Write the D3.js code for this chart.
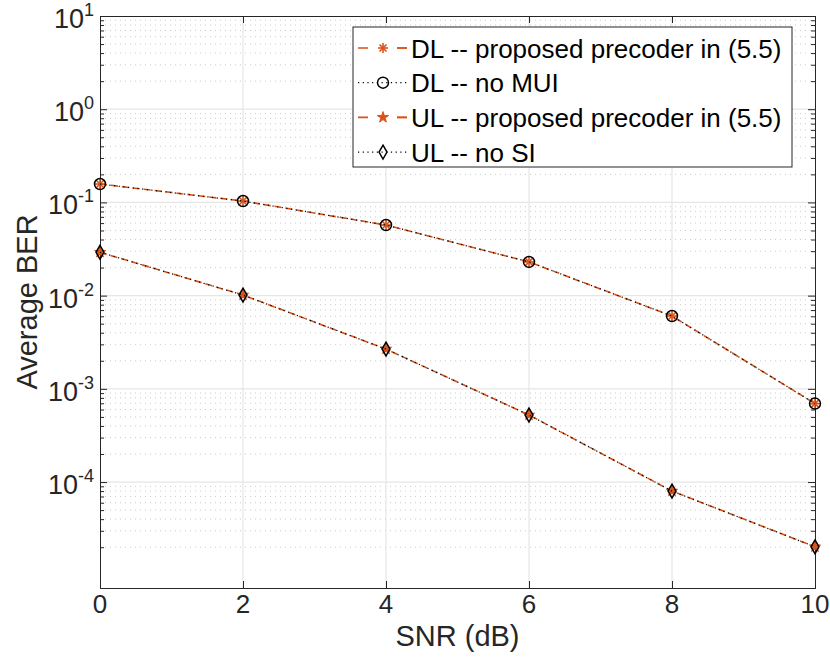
<!DOCTYPE html>
<html>
<head>
<meta charset="utf-8">
<script src="https://cdn.jsdelivr.net/npm/d3@7"></script>
<style>
  html, body { margin: 0; padding: 0; background: #fff; }
  svg { display: block; font-family: "Liberation Sans", Arial, Helvetica, sans-serif; }
</style>
</head>
<body>
<svg id="chart" width="830" height="659"></svg>
<script>
// ---------------- data ----------------
const snr = [0, 2, 4, 6, 8, 10];
const dlProposed = [0.1575, 0.1035, 0.0572, 0.0230, 0.00604, 0.000695];
const dlNoMUI    = [0.1575, 0.1035, 0.0572, 0.0230, 0.00604, 0.000695];
const ulProposed = [0.0292, 0.01015, 0.00267, 0.000524, 0.0000800, 0.0000202];
const ulNoSI     = [0.0292, 0.01015, 0.00267, 0.000524, 0.0000800, 0.0000202];
const seriesNames = ["DL -- proposed precoder in (5.5)", "DL -- no MUI", "UL -- proposed precoder in (5.5)", "UL -- no SI"];
const xTicks = [0, 2, 4, 6, 8, 10];
const yTickExponents = [1, 0, -1, -2, -3, -4];
const xDomain = [0, 10];
const yDomain = [7.3e-6, 10];

// ---------------- layout ----------------
const svg = d3.select("#chart");
const L = 100, R = 815, T = 16, B = 588;
const orange = "#D95319";
const axisColor = "#262626";

const x = d3.scaleLinear().domain(xDomain).range([L, R]);
const y = d3.scaleLog().domain(yDomain).range([B, T]);

svg.append("rect").attr("x", 0).attr("y", 0).attr("width", 830).attr("height", 659).attr("fill", "#fff");

// minor grid (y)
const minorVals = [];
for (let e = -5; e <= 0; e++) {
  for (let k = 2; k <= 9; k++) {
    const v = k * Math.pow(10, e);
    if (v >= 1.5e-5 && v < 10) minorVals.push(v);
  }
}
svg.append("g").selectAll("line").data(minorVals).join("line")
  .attr("x1", L).attr("x2", R)
  .attr("y1", d => y(d)).attr("y2", d => y(d))
  .attr("stroke", "#cccccc").attr("stroke-width", 1).attr("stroke-dasharray", "1,4");

// major grid
const yMajor = yTickExponents.map(e => Math.pow(10, e));
svg.append("g").selectAll("line").data(yMajor.filter(v => v < 10)).join("line")
  .attr("x1", L).attr("x2", R)
  .attr("y1", d => y(d)).attr("y2", d => y(d))
  .attr("stroke", "#e6e6e6").attr("stroke-width", 1.2);
svg.append("g").selectAll("line").data(xTicks.filter(v => v > 0 && v < 10)).join("line")
  .attr("x1", d => x(d)).attr("x2", d => x(d))
  .attr("y1", T).attr("y2", B)
  .attr("stroke", "#e6e6e6").attr("stroke-width", 1.2);

// axes (inward ticks)
const fmtNone = () => "";
svg.append("g").attr("transform", `translate(0,${B})`)
  .call(d3.axisBottom(x).tickValues(xTicks).tickSize(-7).tickFormat(fmtNone))
  .call(g => g.select(".domain").attr("stroke", axisColor))
  .call(g => g.selectAll(".tick line").attr("stroke", axisColor));
svg.append("g").attr("transform", `translate(0,${T})`)
  .call(d3.axisTop(x).tickValues(xTicks).tickSize(-7).tickFormat(fmtNone))
  .call(g => g.select(".domain").attr("stroke", axisColor))
  .call(g => g.selectAll(".tick line").attr("stroke", axisColor));
svg.append("g").attr("transform", `translate(${L},0)`)
  .call(d3.axisLeft(y).tickValues(yMajor).tickSize(-7).tickFormat(fmtNone))
  .call(g => g.select(".domain").attr("stroke", axisColor))
  .call(g => g.selectAll(".tick line").attr("stroke", axisColor));
svg.append("g").attr("transform", `translate(${R},0)`)
  .call(d3.axisRight(y).tickValues(yMajor).tickSize(-7).tickFormat(fmtNone))
  .call(g => g.select(".domain").attr("stroke", axisColor))
  .call(g => g.selectAll(".tick line").attr("stroke", axisColor));
svg.append("g").attr("transform", `translate(${L},0)`)
  .call(d3.axisLeft(y).tickValues(minorVals).tickSize(-4).tickFormat(fmtNone))
  .call(g => g.select(".domain").remove())
  .call(g => g.selectAll(".tick line").attr("stroke", axisColor));
svg.append("g").attr("transform", `translate(${R},0)`)
  .call(d3.axisRight(y).tickValues(minorVals).tickSize(-4).tickFormat(fmtNone))
  .call(g => g.select(".domain").remove())
  .call(g => g.selectAll(".tick line").attr("stroke", axisColor));

// tick labels
svg.append("g").selectAll("text").data(xTicks).join("text")
  .attr("x", d => x(d)).attr("y", 613)
  .attr("text-anchor", "middle").attr("font-size", 26).attr("fill", axisColor)
  .text(d => d);
const yl = svg.append("g").selectAll("text").data(yTickExponents).join("text")
  .attr("x", 94).attr("y", d => y(Math.pow(10, d)) + 12)
  .attr("text-anchor", "end").attr("font-size", 27).attr("fill", axisColor);
yl.append("tspan").text("10");
yl.append("tspan").attr("dy", -12).attr("font-size", 18).text(d => d);

// axis labels
svg.append("text").attr("x", (L + R) / 2).attr("y", 646)
  .attr("text-anchor", "middle").attr("font-size", 29).attr("fill", axisColor)
  .text("SNR (dB)");
svg.append("text").attr("transform", `translate(37,${(T + B) / 2}) rotate(-90)`)
  .attr("text-anchor", "middle").attr("font-size", 29).attr("fill", axisColor)
  .text("Average BER");

// ---------------- series ----------------
function markerAsterisk(g, r) {
  g.append("line").attr("x1", -r).attr("x2", r).attr("y1", 0).attr("y2", 0);
  g.append("line").attr("x1", 0).attr("x2", 0).attr("y1", -r).attr("y2", r);
  g.append("line").attr("x1", -r * 0.7).attr("x2", r * 0.7).attr("y1", -r * 0.7).attr("y2", r * 0.7);
  g.append("line").attr("x1", -r * 0.7).attr("x2", r * 0.7).attr("y1", r * 0.7).attr("y2", -r * 0.7);
  g.attr("stroke", orange).attr("stroke-width", 1.6);
}
function markerCircle(g) {
  g.append("circle").attr("r", 5.5).attr("fill", "none").attr("stroke", "#000").attr("stroke-width", 1.5);
}
function markerStar(g) {
  g.append("path").attr("d", d3.symbol(d3.symbolStar, 38)())
    .attr("fill", orange).attr("stroke", orange).attr("stroke-width", 1);
}
function markerDiamond(g) {
  g.append("path").attr("d", d3.symbol(d3.symbolDiamond, 55)())
    .attr("fill", "none").attr("stroke", "#000").attr("stroke-width", 1.5);
}

const series = [
  { name: seriesNames[0], values: dlProposed, color: orange, dash: "7,4", width: 1.6, marker: g => markerAsterisk(g, 5) },
  { name: seriesNames[1], values: dlNoMUI, color: "#000", dash: "1.2,3.5", width: 1.2, marker: markerCircle },
  { name: seriesNames[2], values: ulProposed, color: orange, dash: "7,4", width: 1.6, marker: markerStar },
  { name: seriesNames[3], values: ulNoSI, color: "#000", dash: "1.2,3.5", width: 1.2, marker: markerDiamond }
];

const lineGen = d3.line().x(d => x(d[0])).y(d => y(d[1]));
series.forEach(s => {
  const pts = snr.map((v, i) => [v, s.values[i]]);
  svg.append("path").datum(pts).attr("d", lineGen)
    .attr("fill", "none").attr("stroke", s.color)
    .attr("stroke-width", s.width).attr("stroke-dasharray", s.dash);
  svg.append("g").selectAll("g").data(pts).join("g")
    .attr("transform", d => `translate(${x(d[0])},${y(d[1])})`)
    .each(function () { s.marker(d3.select(this)); });
});

// ---------------- legend ----------------
const lg = svg.append("g");
lg.append("rect").attr("x", 353).attr("y", 27).attr("width", 439).attr("height", 140)
  .attr("fill", "#fff").attr("stroke", axisColor).attr("stroke-width", 1);
series.forEach((s, i) => {
  const cy = 48 + i * 34.7;
  lg.append("line").attr("x1", 358).attr("x2", 407).attr("y1", cy).attr("y2", cy)
    .attr("stroke", s.color).attr("stroke-width", s.width)
    .attr("stroke-dasharray", i % 2 === 0 ? "10,29" : "1.2,3.5");
  if (i % 2 === 0) {
    lg.append("line").attr("x1", 397).attr("x2", 407).attr("y1", cy).attr("y2", cy)
      .attr("stroke", s.color).attr("stroke-width", s.width);
  }
  const mg = lg.append("g").attr("transform", `translate(383,${cy})`);
  s.marker(mg);
  lg.append("text").attr("x", 411).attr("y", cy + 9.5)
    .attr("font-size", 26).attr("fill", "#000").text(s.name);
});
</script>
</body>
</html>
